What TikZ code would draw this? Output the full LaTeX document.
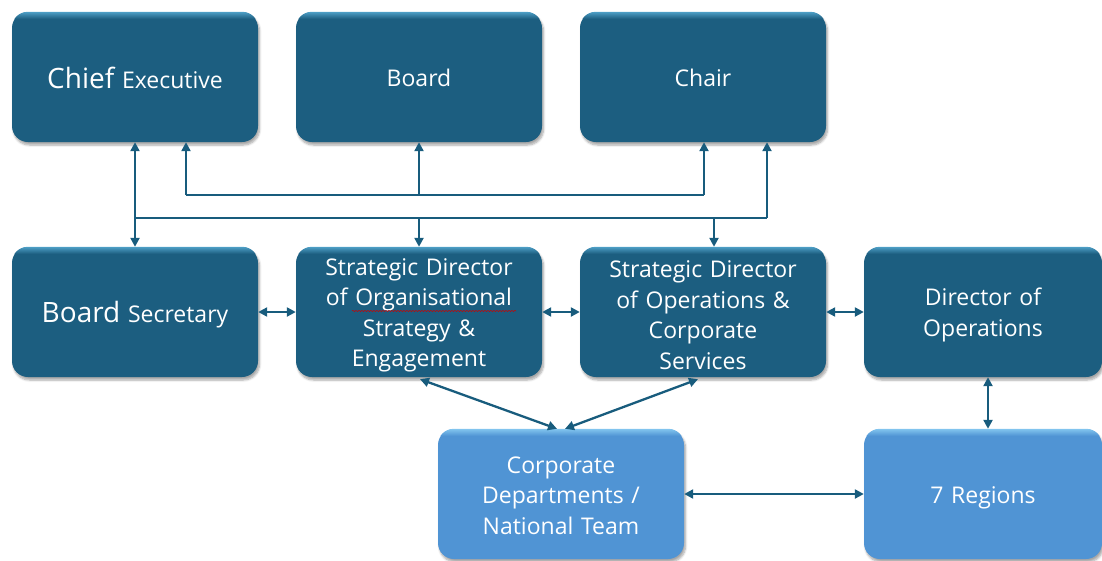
\documentclass[tikz,border=0pt]{standalone}
\usepackage{fontspec}
\setmainfont{Open Sans}
\usetikzlibrary{arrows.meta,calc,shadows.blur,decorations.pathmorphing}

\definecolor{boxdark}{RGB}{28,94,128}
\definecolor{boxdarkhi}{RGB}{84,168,208}
\definecolor{boxlight}{RGB}{80,148,212}
\definecolor{boxlighthi}{RGB}{138,204,242}
\definecolor{linkcol}{RGB}{24,92,125}

\tikzset{
  orgbox/.style={rectangle, rounded corners=16pt, minimum width=246pt,
    minimum height=130pt, inner sep=0pt,
    blur shadow={shadow xshift=1.5pt, shadow yshift=-3pt, shadow opacity=35, shadow blur steps=6}},
  darkbox/.style={orgbox, fill=boxdark},
  lightbox/.style={orgbox, fill=boxlight},
  boxtext/.style={inner sep=0pt, text=white, align=center, text width=240pt,
    font=\fontsize{23}{30.5}\selectfont},
  link/.style={draw=linkcol, line width=2.3pt,
    arrows={-Triangle[length=9pt,width=9pt]}},
  biglink/.style={link, arrows={Triangle[length=9pt,width=9pt]-Triangle[length=9pt,width=9pt]}},
  plainlink/.style={draw=linkcol, line width=2.3pt},
}

% bright band along the top edge of a box
\newcommand{\boxbevel}[3]{%
  \begin{scope}
    \clip[rounded corners=16pt] (#1.north west) rectangle (#1.south east);
    \shade[top color=#2, bottom color=#3] ($(#1.north west)+(0,-1)$) rectangle ($(#1.north east)+(0,7)$);
  \end{scope}}

\begin{document}
\begin{tikzpicture}[x=1pt,y=-1pt]
\useasboundingbox (0,0) rectangle (1102,560);

% boxes
\node[darkbox] (ce)    at (135,77)  {};
\node[darkbox] (board) at (419,77)  {};
\node[darkbox] (chair) at (703,77)  {};
\node[darkbox] (bs)    at (135,312) {};
\node[darkbox] (sdo)   at (419,312) {};
\node[darkbox] (sdops) at (703,312) {};
\node[darkbox, minimum width=238pt] (dops) at (983,312) {};
\node[lightbox] (corp) at (561,494) {};
\node[lightbox, minimum width=238pt] (reg) at (983,494) {};

% top highlights
\foreach \n in {ce,board,chair,bs,sdo,sdops,dops} {\boxbevel{\n}{boxdarkhi}{boxdark}}
\foreach \n in {corp,reg} {\boxbevel{\n}{boxlighthi}{boxlight}}

% captions
\node[boxtext] (ce-t)    at ($(ce.center)+(0,1)$)    {{\fontsize{28}{30}\selectfont Chief} Executive};
\node[boxtext] (board-t) at ($(board.center)+(0,1)$) {Board};
\node[boxtext] (chair-t) at ($(chair.center)+(0,1)$) {Chair};
\node[boxtext] (bs-t)    at ($(bs.center)+(0,3)$)    {{\fontsize{28}{30}\selectfont Board} Secretary};
\node[boxtext] (sdo-t)   at ($(sdo.center)+(0,3.5)$) {Strategic Director\\of Organisational\\Strategy \&\\Engagement};
\node[boxtext] (sdops-t) at ($(sdops.center)+(0,3)$) {Strategic Director\\of Operations \&\\Corporate\\Services};
\node[boxtext] (dops-t)  at ($(dops.center)+(0,3)$)  {Director of\\Operations};
\node[boxtext] (corp-t)  at ($(corp.center)+(0,1.5)$) {Corporate\\Departments /\\National Team};
\node[boxtext] (reg-t)   at ($(reg.center)+(0,4)$)   {7 Regions};

% spell-check mark under "Organisational"
\draw[red!80!black, line width=0.5pt, decorate,
  decoration={snake, amplitude=0.6pt, segment length=3pt}]
  ($(sdo.center)+(-67,-1)$) -- ($(sdo.center)+(97,-1)$);

% junction points of the two bus lines
\coordinate (ua) at (186,195);
\coordinate (ub) at (704,195);
\coordinate (la) at (135,218);
\coordinate (lb) at (767,218);
\coordinate (lc) at (714,218);
\coordinate (dr) at (988,400);

% upper bus: Chief Executive, Board and Chair
\draw[plainlink] (ua) -- (ub);
\draw[link] (ua) -- (ua |- ce.south);
\draw[link] (board.south |- ua) -- (board.south);
\draw[link] (ub) -- (ub |- chair.south);

% lower bus: Chief Executive, Board Secretary, Chair and both Strategic Directors
\draw[biglink] (ce.south) -- (bs.north);
\draw[plainlink] (la) -- (lb);
\draw[link] (lb) -- (lb |- chair.south);
\draw[link] (sdo.north |- la) -- (sdo.north);
\draw[link] (lc) -- (lc |- sdops.north);

% middle row links
\draw[biglink] (bs.east) -- (sdo.west);
\draw[biglink] (sdo.east) -- (sdops.west);
\draw[biglink] (sdops.east) -- (dops.west);

% links to the bottom row
\draw[biglink] ($(sdo.south)+(1,2)$) -- ($(corp.north)+(-4,0)$);
\draw[biglink] ($(sdops.south)+(-5,2)$) -- ($(corp.north)+(4,0)$);
\draw[biglink] (dr |- dops.south) -- (dr |- reg.north);
\draw[biglink] (corp.east) -- (reg.west);
\end{tikzpicture}
\end{document}
